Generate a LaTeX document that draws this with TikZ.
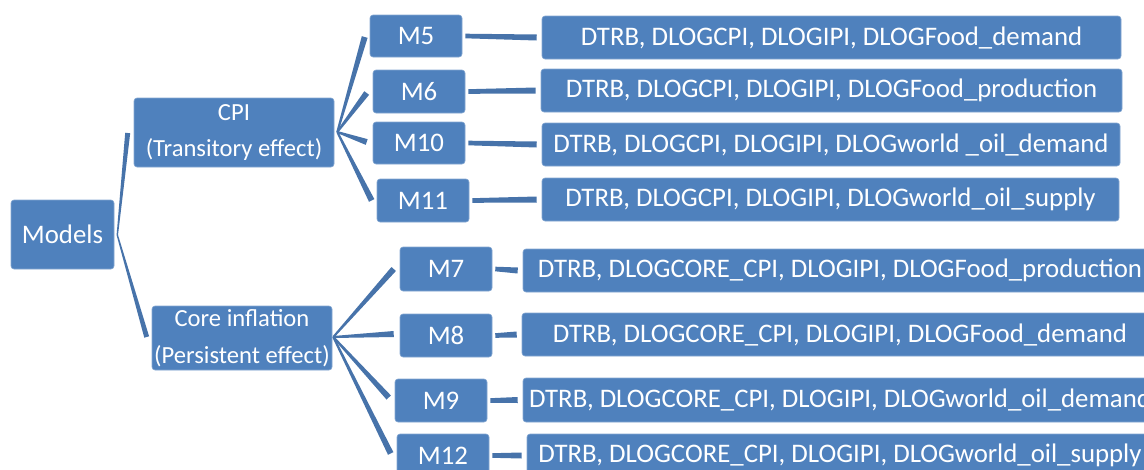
\documentclass[tikz,border=0pt]{standalone}
\usepackage{fontspec}
\setmainfont{Carlito}
\usetikzlibrary{calc}
\definecolor{boxblue}{HTML}{4F81BD}
\definecolor{connblue}{HTML}{4773AA}
\tikzset{
  box/.style={rectangle, rounded corners=3pt, fill=boxblue, draw=boxblue!70!white, line width=0.6pt,
    text=white, inner sep=0pt, anchor=center, font=\fontsize{26.8}{30}\selectfont},
  midbox/.style={box, align=center, font=\fontsize{24.6}{36.5}\selectfont},
  conn/.style={fill=connblue}
}
\newcommand\taperline[4]{\fill[conn] ($(#1)!#3!90:(#2)$) -- ($(#1)!#3!-90:(#2)$) -- ($(#2)!#4!90:(#1)$) -- ($(#2)!#4!-90:(#1)$) -- cycle;}
\begin{document}
\begin{tikzpicture}[x=1pt,y=-1pt]
\useasboundingbox (0,0) rectangle (1144,469);
\clip (0,0) rectangle (1144,469);
% level 0
\node[box, minimum width=103pt, minimum height=69pt] (models) at (62.5,234.5) {Models};
% level 1
\node[midbox, minimum width=200pt, minimum height=69pt] (cpi) at (234,132.5) {CPI\\(Transitory effect)};
\node[midbox, minimum width=180pt, minimum height=64pt] (core) at (242,338) {Core inflation\\(Persistent effect)};
% level 2
\node[box, minimum width=92pt, minimum height=42pt] (m5) at (416,36) {M5};
\node[box, minimum width=92pt, minimum height=43pt] (m6) at (419,91.5) {M6};
\node[box, minimum width=92pt, minimum height=42pt] (m10) at (419,143) {M10};
\node[box, minimum width=92pt, minimum height=43pt] (m11) at (423,200.5) {M11};
\node[box, minimum width=92pt, minimum height=44pt] (m7) at (446,269) {M7};
\node[box, minimum width=92pt, minimum height=43pt] (m8) at (446,335.5) {M8};
\node[box, minimum width=92pt, minimum height=43pt] (m9) at (441,400.5) {M9};
\node[box, minimum width=92pt, minimum height=43pt] (m12) at (443,455.5) {M12};
% level 3
\node[box, minimum width=579pt, minimum height=43pt] (r5) at (831.5,37.5) {DTRB, DLOGCPI, DLOGIPI, DLOGFood\_demand};
\node[box, minimum width=581pt, minimum height=43pt] (r6) at (831.5,90.5) {DTRB, DLOGCPI, DLOGIPI, DLOGFood\_production};
\node[box, minimum width=578pt, minimum height=43pt] (r10) at (831,144.5) {DTRB, DLOGCPI, DLOGIPI, DLOGworld \_oil\_demand};
\node[box, minimum width=577pt, minimum height=43pt] (r11) at (830.5,199.5) {DTRB, DLOGCPI, DLOGIPI, DLOGworld\_oil\_supply};
\node[box, minimum width=634pt, minimum height=43pt] (r7) at (840,270.5) {DTRB, DLOGCORE\_CPI, DLOGIPI, DLOGFood\_production};
\node[box, minimum width=636pt, minimum height=43pt] (r8) at (840,334.5) {DTRB, DLOGCORE\_CPI, DLOGIPI, DLOGFood\_demand};
\node[box, minimum width=634pt, minimum height=44pt] (r9) at (840,400) {DTRB, DLOGCORE\_CPI, DLOGIPI, DLOGworld\_oil\_demand};
\node[box, minimum width=626pt, minimum height=43pt] (r12) at (840,455.5) {DTRB, DLOGCORE\_CPI, DLOGIPI, DLOGworld\_oil\_supply};
% connector end points
\coordinate (tm) at ($(models.east)+(3,0.5)$);
\coordinate (ecpi) at ($(cpi.west)+(-6,0.5)$);
\coordinate (ecore) at ($(core.west)+(-5,-1)$);
\coordinate (tcpi) at ($(cpi.east)+(3,-0.5)$);
\coordinate (tcore) at ($(core.east)+(1,-1)$);
\coordinate (e5) at ($(m5.west)+(-5,1)$);
\coordinate (e6) at ($(m6.west)+(-6,1.5)$);
\coordinate (e10) at ($(m10.west)+(-6,-1)$);
\coordinate (e11) at ($(m11.west)+(-5,0)$);
\coordinate (e7) at ($(m7.west)+(-6,0)$);
\coordinate (e8) at ($(m8.west)+(-6,-1.5)$);
\coordinate (e9) at ($(m9.west)+(-6,-3)$);
\coordinate (e12) at ($(m12.west)+(-6,-2)$);
% tapered connectors
\taperline{tm}{ecpi}{0.7pt}{2.5pt}
\taperline{tm}{ecore}{0.7pt}{2.5pt}
\foreach \e in {e5,e6,e10,e11}{\taperline{tcpi}{\e}{1pt}{3pt}}
\foreach \e in {e7,e8,e9,e12}{\taperline{tcore}{\e}{1pt}{3pt}}
% horizontal connectors
\foreach \m/\r in {m5/r5,m6/r6,m10/r10,m11/r11,m7/r7,m8/r8,m9/r9,m12/r12}{
  \coordinate (a) at ($(\m.east)+(3,0)$);
  \coordinate (b) at ($(\r.west)+(-5,0)$);
  \taperline{a}{b}{2.3pt}{3pt}
}
\end{tikzpicture}
\end{document}
